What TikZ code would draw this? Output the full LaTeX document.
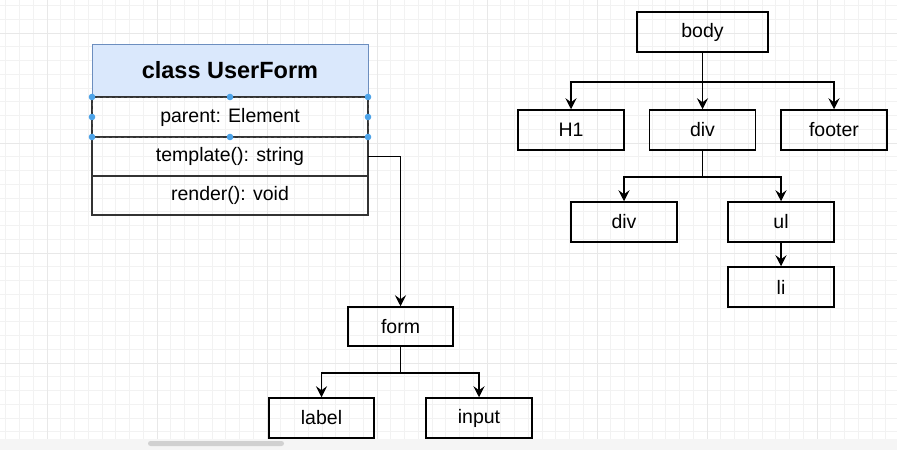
\documentclass[tikz,border=0pt]{standalone}
\usepackage{fontspec}
\setmainfont{Liberation Sans}
\usetikzlibrary{positioning,arrows.meta}

\definecolor{titlefill}{HTML}{DAE8FC}
\definecolor{titledraw}{HTML}{6C8EBF}
\definecolor{handle}{HTML}{4DA3E8}

\begin{document}
\begin{tikzpicture}[x=1pt,y=-1pt,
    elem/.style={draw,line width=1.5pt,minimum width=106pt,minimum height=40pt,inner sep=0pt,
      font=\fontsize{19.5}{22}\selectfont},
    classtitle/.style={draw=titledraw,fill=titlefill,line width=1pt,minimum width=276pt,
      minimum height=53pt,inner sep=0pt,outer sep=0pt,font=\fontsize{23.5}{26}\bfseries\selectfont},
    classrow/.style={draw=black!80,line width=1.4pt,minimum width=276pt,minimum height=39pt,
      inner sep=0pt,outer sep=0pt,font=\fontsize{19.5}{22}\selectfont},
    arrow/.style={-{Stealth[length=11pt,width=11pt,inset=4pt]},line width=1.5pt},
    minorline/.style={black!5,line width=0.7pt},
    majorline/.style={black!9,line width=0.9pt}]
    \useasboundingbox (0,0) rectangle (897,450);

    % Canvas grid
    \fill[white] (0,0) rectangle (897,450);
    \foreach \gx in {0,...,65}
      \draw[minorline] (5.75+13.75*\gx,0) -- (5.75+13.75*\gx,450);
    \foreach \gy in {0,...,32}
      \draw[minorline] (0,5.5+13.75*\gy) -- (897,5.5+13.75*\gy);
    \foreach \gx in {47,157,...,897}
      \draw[majorline] (\gx,0) -- (\gx,450);
    \foreach \gy in {33,143,...,450}
      \draw[majorline] (0,\gy) -- (897,\gy);

    % Class UserForm
    \node[classtitle] (title) at (230,70.5) {class UserForm};
    \node[classrow,below=0pt of title,minimum height=40pt] (parent) {parent: Element};
    \node[classrow,below=0pt of parent] (tmpl) {template(): string};
    \node[classrow,below=0pt of tmpl] (render) {render(): void};

    % Selected row
    \draw[black!70,dashed,line width=0.8pt] (parent.north west) rectangle (parent.south east);
    \foreach \a in {north west,north,north east,west,east,south west,south,south east}
      \fill[handle] (parent.\a) circle (3.3pt);

    % DOM tree
    \node[elem,minimum width=131pt] (body) at (702.5,32) {body};
    \node[elem] (h1) at (571,130) {H1};
    \node[elem] (div) at (702.5,130) {div};
    \node[elem] (footer) at (834,130) {footer};
    \node[elem] (innerdiv) at (624,222) {div};
    \node[elem] (ul) at (781,222) {ul};
    \node[elem] (li) at (781,287) {li};

    \draw[arrow] (body.south) -- ++(0,29) -| (h1.north);
    \draw[arrow] (body.south) -- (div.north);
    \draw[arrow] (body.south) -- ++(0,29) -| (footer.north);
    \draw[arrow] (div.south) -- ++(0,26) -| (innerdiv.north);
    \draw[arrow] (div.south) -- ++(0,26) -| (ul.north);
    \draw[arrow] (ul.south) -- (li.north);

    % Form tree
    \node[elem,minimum width=105pt,minimum height=39pt] (form) at (400.5,326.5) {form};
    \node[elem,minimum width=105pt] (label) at (321.5,418) {label};
    \node[elem] (input) at (479,418) {input};

    \draw[arrow] (tmpl.east) -| (form.north);
    \draw[arrow] (form.south) -- ++(0,26) -| (label.north);
    \draw[arrow] (form.south) -- ++(0,26) -| (input.north);

    % Scroll bar
    \fill[black!4] (0,439) rectangle (897,450);
    \fill[black!18,rounded corners=2.5pt] (148,441) rectangle (284,446);
\end{tikzpicture}
\end{document}
